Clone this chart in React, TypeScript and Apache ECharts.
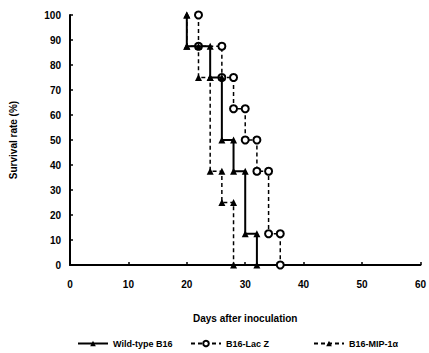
import React, { useEffect, useRef } from "react";
import * as echarts from "echarts";

const xTicks = [0, 10, 20, 30, 40, 50, 60];
const yTicks = [0, 10, 20, 30, 40, 50, 60, 70, 80, 90, 100];

// Kaplan-Meier style step corners (day, survival %)
const wildDays = [20, 20, 24, 24, 26, 26, 28, 28, 30, 30, 32, 32];
const wildSurv = [100, 87.5, 87.5, 75, 75, 50, 50, 37.5, 37.5, 12.5, 12.5, 0];

const lacDays = [22, 22, 26, 26, 28, 28, 30, 30, 32, 32, 34, 34, 36, 36];
const lacSurv = [100, 87.5, 87.5, 75, 75, 62.5, 62.5, 50, 50, 37.5, 37.5, 12.5, 12.5, 0];

const mipDays = [20, 20, 22, 22, 24, 24, 26, 26, 28, 28];
const mipSurv = [100, 87.5, 87.5, 75, 75, 37.5, 37.5, 25, 25, 0];

const seriesNames = ["Wild-type B16", "B16-Lac Z", "B16-MIP-1α"];

const zip = (a: number[], b: number[]) => a.map((v, i) => [v, b[i]]);

export default function App() {
  const ref = useRef<HTMLDivElement>(null);
  useEffect(() => {
    if (!ref.current) return;
    const chart = echarts.init(ref.current, null, { renderer: "svg" });
    const font = "Liberation Sans, Arial, sans-serif";
    const legendCommon = {
      top: 334,
      itemWidth: 30,
      itemHeight: 7,
      itemGap: 4,
      textStyle: { fontFamily: font, fontSize: 9, color: "#000", fontWeight: "bold" as const },
    };
    chart.setOption({
      animation: false,
      grid: { left: 67, right: 8, top: 15, bottom: 88 },
      legend: [
        { ...legendCommon, left: 72, data: [seriesNames[0]] },
        { ...legendCommon, left: 185, data: [seriesNames[1]] },
        { ...legendCommon, left: 308, data: [seriesNames[2]] },
      ],
      xAxis: {
        type: "value",
        min: 0,
        max: 60,
        interval: 10,
        name: "Days after inoculation",
        nameLocation: "middle",
        nameGap: 48,
        nameTextStyle: { fontFamily: font, fontSize: 10, color: "#000", fontWeight: "bold" },
        axisLine: { lineStyle: { color: "#000", width: 2 } },
        axisTick: { inside: true, length: 3, lineStyle: { color: "#000", width: 1.5 } },
        axisLabel: {
          fontFamily: font,
          fontSize: 10,
          fontWeight: "bold",
          color: "#000",
          margin: 14,
          formatter: (v: number) => (xTicks.includes(v) ? String(v) : ""),
        },
        splitLine: { show: false },
      },
      yAxis: {
        type: "value",
        min: 0,
        max: 100,
        interval: 10,
        name: "Survival rate (%)",
        nameLocation: "middle",
        nameGap: 52,
        nameTextStyle: { fontFamily: font, fontSize: 10, color: "#000", fontWeight: "bold" },
        axisLine: { show: true, lineStyle: { color: "#000", width: 2 } },
        axisTick: { show: true, inside: true, length: 3, lineStyle: { color: "#000", width: 1.5 } },
        axisLabel: {
          fontFamily: font,
          fontSize: 10,
          fontWeight: "bold",
          color: "#000",
          margin: 9,
          formatter: (v: number) => (yTicks.includes(v) ? String(v) : ""),
        },
        splitLine: { show: false },
      },
      series: [
        {
          name: seriesNames[0],
          type: "line",
          data: zip(wildDays, wildSurv),
          symbol: "triangle",
          symbolSize: 7,
          itemStyle: { color: "#000" },
          lineStyle: { color: "#000", width: 2 },
          z: 3,
        },
        {
          name: seriesNames[1],
          type: "line",
          data: zip(lacDays, lacSurv),
          symbol: "emptyCircle",
          symbolSize: 7,
          itemStyle: { color: "#000", borderWidth: 2 },
          lineStyle: { color: "#000", width: 1.5, type: [4, 3] },
          z: 2,
        },
        {
          name: seriesNames[2],
          type: "line",
          data: zip(mipDays, mipSurv),
          symbol: "triangle",
          symbolSize: 7,
          itemStyle: { color: "#000" },
          lineStyle: { color: "#000", width: 1.5, type: [4, 3] },
          z: 2,
        },
      ],
    });
    return () => chart.dispose();
  }, []);
  return <div ref={ref} style={{ width: 429, height: 353, position: "absolute", left: 0, top: 0 }} />;
}
